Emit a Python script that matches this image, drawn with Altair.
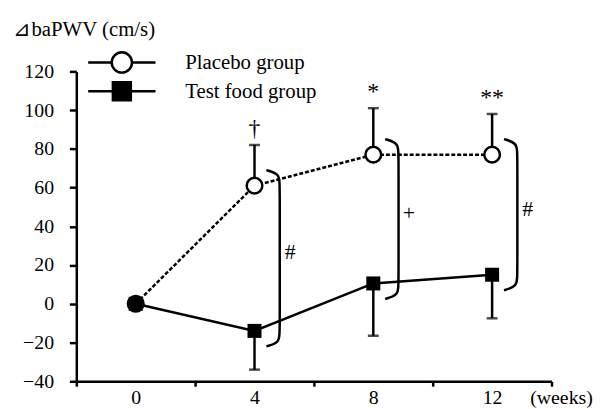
import altair as alt
import pandas as pd

# ---- data ----
weeks = [0, 4, 8, 12]
placebo_mean = [0, 61, 77, 77]
placebo_upper = [None, 82, 101, 98]
test_mean = [0, -14, 10.5, 15]
test_lower = [None, -34, -16.5, -7.5]
top_marks = ["", "\u2020", "*", "**"]
diff_marks = ["", "#", "+", "#"]
groups = ["Placebo group", "Test food group"]
x_bounds = [-2, 2, 6, 10, 14]
x_labels = [0, 4, 8, 12]
y_ticks = [-40, -20, 0, 20, 40, 60, 80, 100, 120]

FONT = "Times New Roman, Liberation Serif, serif"
SW = 2.5

placebo = pd.DataFrame({"week": weeks, "mean": placebo_mean,
                        "bound": placebo_upper, "mark": top_marks})
test = pd.DataFrame({"week": weeks, "mean": test_mean, "bound": test_lower})

# bracket paths derived from the two group means
rows = []
for w, p, t, m in zip(weeks, placebo_mean, test_mean, diff_marks):
    if not m:
        continue
    pts = [(w + 0.4, p + 8), (w + 0.85, p + 6), (w + 0.85, p),
           (w + 0.85, t), (w + 0.85, t - 6), (w + 0.4, t - 8)]
    for i, (bx, by) in enumerate(pts):
        rows.append({"grp": w, "ord": i, "bx": bx, "by": by})
brackets = pd.DataFrame(rows)
diffs = pd.DataFrame({
    "lx": [w + 1.2 for w, m in zip(weeks, diff_marks) if m],
    "ly": [(p + t) / 2 + 3 for p, t, m in zip(placebo_mean, test_mean, diff_marks) if m],
    "txt": [m for m in diff_marks if m],
})

xscale = alt.Scale(domain=[x_bounds[0], x_bounds[-1]], nice=False, zero=False)
yscale = alt.Scale(domain=[y_ticks[0], y_ticks[-1]], nice=False, zero=False)

xaxis = alt.Axis(
    values=sorted(x_bounds + x_labels),
    labelExpr="datum.value % 4 === 0 ? datum.label : ''",
    tickOpacity={"condition": {"test": "datum.value % 4 === 0", "value": 0}, "value": 1},
    labelOverlap=False, grid=False, tickSize=5, labelPadding=1,
    titleAngle=0, titleAlign="left", titleBaseline="middle",
    titleX=458, titleY=16, titleFontWeight="normal", titleFontSize=20,
)
yaxis = alt.Axis(
    values=y_ticks, grid=False, tickSize=7, labelPadding=16,
    titleAngle=0, titleAlign="left", titleBaseline="middle",
    titleX=-64, titleY=-42, titleFontWeight="normal", titleFontSize=21,
)


def X(f):
    return alt.X(f, type="quantitative", scale=xscale, axis=xaxis, title="(weeks)")


def Y(f):
    return alt.Y(f, type="quantitative", scale=yscale, axis=yaxis,
                 title="\u22bfbaPWV (cm/s)")


base_p = alt.Chart(placebo)
base_t = alt.Chart(test)

line_p = base_p.mark_line(color="black", strokeWidth=SW, strokeDash=[4, 2]).encode(
    x=X("week"), y=Y("mean"))
line_t = base_t.mark_line(color="black", strokeWidth=SW).encode(
    x=X("week"), y=Y("mean"))

err_p = base_p.transform_filter("isValid(datum.bound)").mark_rule(
    color="black", strokeWidth=SW).encode(x=X("week"), y=Y("mean"), y2="bound")
err_t = base_t.transform_filter("isValid(datum.bound)").mark_rule(
    color="black", strokeWidth=SW).encode(x=X("week"), y=Y("mean"), y2="bound")
cap_p = base_p.transform_filter("isValid(datum.bound)").mark_tick(
    orient="horizontal", color="black", size=11, thickness=SW).encode(
    x=X("week"), y=Y("bound"))
cap_t = base_t.transform_filter("isValid(datum.bound)").mark_tick(
    orient="horizontal", color="black", size=11, thickness=SW).encode(
    x=X("week"), y=Y("bound"))

br = alt.Chart(brackets).mark_line(
    color="black", strokeWidth=SW, interpolate="basis").encode(
    x=X("bx"), y=Y("by"), detail="grp:N", order="ord:Q")

diff_txt = alt.Chart(diffs).mark_text(
    font=FONT, fontSize=22, color="black", align="center", baseline="middle").encode(
    x=X("lx"), y=Y("ly"), text="txt:N")

top_txt = base_p.transform_filter("datum.mark != ''").mark_text(
    font=FONT, fontSize=24, color="black", align="center",
    baseline="alphabetic", dy=-9).encode(x=X("week"), y=Y("bound"), text="mark:N")

pt_p = base_p.mark_point(shape="circle", filled=True, fill="white", stroke="black",
                         strokeWidth=SW, size=250, opacity=1).encode(
    x=X("week"), y=Y("mean"))
pt_t = base_t.mark_point(shape="square", filled=True, color="black",
                         size=200, opacity=1).encode(x=X("week"), y=Y("mean"))

# legend (drawn in pixel space above the plot)
leg = []
for name, ypx, shape, fill, size in [(groups[0], -9, "circle", "white", 420),
                                     (groups[1], 20, "square", "black", 330)]:
    d = alt.Chart(pd.DataFrame({"name": [name]}))
    leg.append(d.mark_rule(color="black", strokeWidth=SW).encode(
        x=alt.value(12), x2=alt.value(80), y=alt.value(ypx)))
    leg.append(d.mark_point(shape=shape, filled=True, fill=fill, stroke="black",
                            strokeWidth=SW, size=size, opacity=1).encode(
        x=alt.value(46), y=alt.value(ypx)))
    leg.append(d.mark_text(font=FONT, fontSize=21, color="black", align="left",
                           baseline="middle").encode(
        x=alt.value(110), y=alt.value(ypx + 1), text="name:N"))

chart = alt.layer(
    line_p, line_t, err_p, err_t, cap_p, cap_t, br, diff_txt, top_txt,
    pt_p, pt_t, *leg
).properties(
    width=480, height=313,
    autosize=alt.AutoSizeParams(type="none"),
    padding={"left": 69, "top": 62, "right": 50, "bottom": 25},
).configure_view(stroke=None).configure_axis(
    domainColor="black", domainWidth=SW, tickColor="black", tickWidth=SW,
    labelFont=FONT, labelFontSize=20, labelColor="black",
    titleFont=FONT, titleFontSize=20, titleColor="black",
)

chart.save("out.html", embed_options={"renderer": "svg", "actions": False})
